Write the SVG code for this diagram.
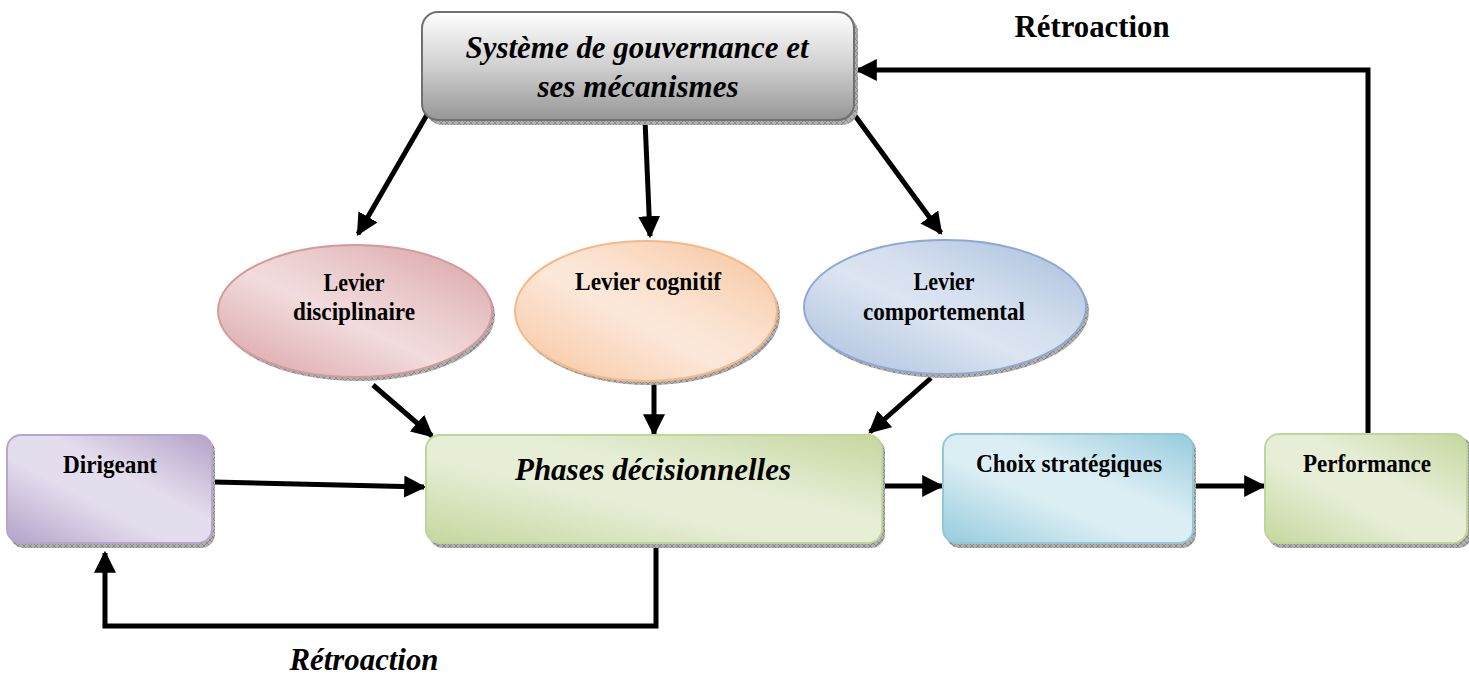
<svg xmlns="http://www.w3.org/2000/svg" width="1469" height="678" viewBox="0 0 1469 678">
  <style>
    .lbl { font-family: "Liberation Serif", "Times New Roman", serif; font-weight: bold; fill: #000; text-anchor: middle; }
    .big { font-size: 31px; font-style: italic; }
    .small { font-size: 25px; }
    .fb { font-size: 31px; }
    .edge { fill: none; stroke: #000; stroke-width: 5; }
    .shadow { fill: url(#hatch); }
  </style>
  <defs>
    <pattern id="hatch" width="6" height="6" patternUnits="userSpaceOnUse">
      <rect width="6" height="6" fill="#b0b0b0"/>
      <path d="M0 0 L6 6 M6 0 L0 6" stroke="#808080" stroke-width="0.8"/>
    </pattern>
    <marker id="arr" viewBox="0 0 10 10" refX="9" refY="5" markerWidth="4.4" markerHeight="4.4" orient="auto" markerUnits="strokeWidth">
      <path d="M0 0 L10 5 L0 10 z" fill="#000"/>
    </marker>
    <linearGradient id="gGray" x1="0" y1="0" x2="0" y2="1">
      <stop offset="0" stop-color="#ffffff"/>
      <stop offset="0.5" stop-color="#d0d0d0"/>
      <stop offset="1" stop-color="#969696"/>
    </linearGradient>
    <linearGradient id="gRed" x1="0" y1="1" x2="1" y2="0">
      <stop offset="0" stop-color="#d8a0a3"/>
      <stop offset="0.45" stop-color="#f2dcdd"/>
      <stop offset="0.6" stop-color="#eccfd0"/>
      <stop offset="1" stop-color="#d9a2a5"/>
    </linearGradient>
    <linearGradient id="gOrange" x1="0" y1="1" x2="1" y2="0">
      <stop offset="0" stop-color="#f7c49c"/>
      <stop offset="0.45" stop-color="#fce8da"/>
      <stop offset="0.6" stop-color="#fbe2cf"/>
      <stop offset="1" stop-color="#f6c39b"/>
    </linearGradient>
    <linearGradient id="gBlue" x1="0" y1="1" x2="1" y2="0">
      <stop offset="0" stop-color="#a9bedd"/>
      <stop offset="0.45" stop-color="#dce5f1"/>
      <stop offset="0.6" stop-color="#d4dfee"/>
      <stop offset="1" stop-color="#a7bcdc"/>
    </linearGradient>
    <linearGradient id="gPurple" x1="0" y1="1" x2="1" y2="0">
      <stop offset="0" stop-color="#b3a2c9"/>
      <stop offset="0.4" stop-color="#e4dded"/>
      <stop offset="0.6" stop-color="#e4dded"/>
      <stop offset="1" stop-color="#b3a2c9"/>
    </linearGradient>
    <linearGradient id="gGreen" x1="0" y1="1" x2="1" y2="0">
      <stop offset="0" stop-color="#c5d79e"/>
      <stop offset="0.4" stop-color="#e6eed6"/>
      <stop offset="0.6" stop-color="#e6eed6"/>
      <stop offset="1" stop-color="#c5d79e"/>
    </linearGradient>
    <linearGradient id="gCyan" x1="0" y1="1" x2="1" y2="0">
      <stop offset="0" stop-color="#96cbdc"/>
      <stop offset="0.4" stop-color="#dbeef4"/>
      <stop offset="0.6" stop-color="#dbeef4"/>
      <stop offset="1" stop-color="#96cbdc"/>
    </linearGradient>
  </defs>

  <rect width="1469" height="678" fill="#fff"/>

  <!-- connectors -->
  <g id="connectors">
    <path class="edge" d="M428 113 L358 234" marker-end="url(#arr)"/>
    <path class="edge" d="M645 120 L650 236" marker-end="url(#arr)"/>
    <path class="edge" d="M853 113 L941 233" marker-end="url(#arr)"/>
    <path class="edge" d="M373 385 L432 436" marker-end="url(#arr)"/>
    <path class="edge" d="M654 380 L654 434" marker-end="url(#arr)"/>
    <path class="edge" d="M931 378 L870 432" marker-end="url(#arr)"/>
    <path class="edge" d="M214 482 L424 487" marker-end="url(#arr)"/>
    <path class="edge" d="M884 486 L942 486" marker-end="url(#arr)"/>
    <path class="edge" d="M1195 486 L1264 486" marker-end="url(#arr)"/>
    <path class="edge" d="M1368 434 L1368 70 L857 70" marker-end="url(#arr)"/>
    <path class="edge" d="M656 546 L656 626 L105 626 L105 553" marker-end="url(#arr)"/>
  </g>

  <!-- governance system -->
  <g id="gouvernance">
    <rect class="shadow" x="426" y="16" width="432" height="109" rx="16"/>
    <rect x="422" y="12" width="432" height="108" rx="16" fill="url(#gGray)" stroke="#707070" stroke-width="2"/>
    <text class="lbl big" x="637" y="58" textLength="343" lengthAdjust="spacingAndGlyphs">Système de gouvernance et</text>
    <text class="lbl big" x="638" y="97" textLength="201" lengthAdjust="spacingAndGlyphs">ses mécanismes</text>
  </g>

  <g id="levier-disciplinaire">
    <ellipse class="shadow" cx="358" cy="315" rx="137" ry="66"/>
    <ellipse cx="355" cy="311" rx="137" ry="66" fill="url(#gRed)" stroke="#d49a9c" stroke-width="2"/>
    <text class="lbl small" x="354" y="291" textLength="61" lengthAdjust="spacingAndGlyphs">Levier</text>
    <text class="lbl small" x="354" y="320" textLength="122" lengthAdjust="spacingAndGlyphs">disciplinaire</text>
  </g>

  <g id="levier-cognitif">
    <ellipse class="shadow" cx="649" cy="315" rx="131" ry="70"/>
    <ellipse cx="646" cy="311" rx="131" ry="70" fill="url(#gOrange)" stroke="#f5b888" stroke-width="2"/>
    <text class="lbl small" x="648" y="290" textLength="146" lengthAdjust="spacingAndGlyphs">Levier cognitif</text>
  </g>

  <g id="levier-comportemental">
    <ellipse class="shadow" cx="948" cy="311" rx="141" ry="67"/>
    <ellipse cx="945" cy="307" rx="141" ry="67" fill="url(#gBlue)" stroke="#8fa9d2" stroke-width="2"/>
    <text class="lbl small" x="944" y="290" textLength="61" lengthAdjust="spacingAndGlyphs">Levier</text>
    <text class="lbl small" x="944" y="320" textLength="162" lengthAdjust="spacingAndGlyphs">comportemental</text>
  </g>

  <g id="dirigeant">
    <rect class="shadow" x="10" y="438" width="205" height="110" rx="14"/>
    <rect x="7" y="435" width="205" height="108" rx="14" fill="url(#gPurple)" stroke="#b7a6cc" stroke-width="2"/>
    <text class="lbl small" x="110" y="473" textLength="94" lengthAdjust="spacingAndGlyphs">Dirigeant</text>
  </g>

  <g id="phases">
    <rect class="shadow" x="429" y="438" width="456" height="110" rx="14"/>
    <rect x="426" y="435" width="456" height="108" rx="14" fill="url(#gGreen)" stroke="#c0d59a" stroke-width="2"/>
    <text class="lbl big" x="653" y="480" textLength="276" lengthAdjust="spacingAndGlyphs">Phases décisionnelles</text>
  </g>

  <g id="choix">
    <rect class="shadow" x="946" y="437" width="250" height="111" rx="14"/>
    <rect x="943" y="434" width="250" height="109" rx="14" fill="url(#gCyan)" stroke="#91c8da" stroke-width="2"/>
    <text class="lbl small" x="1069" y="472" textLength="186" lengthAdjust="spacingAndGlyphs">Choix stratégiques</text>
  </g>

  <g id="performance">
    <rect class="shadow" x="1268" y="437" width="204" height="111" rx="14"/>
    <rect x="1265" y="434" width="202" height="109" rx="14" fill="url(#gGreen)" stroke="#c0d59a" stroke-width="2"/>
    <text class="lbl small" x="1367" y="472" textLength="128" lengthAdjust="spacingAndGlyphs">Performance</text>
  </g>

  <g id="labels">
    <text class="lbl fb" x="1092" y="37" textLength="155" lengthAdjust="spacingAndGlyphs">Rétroaction</text>
    <text class="lbl fb" x="364" y="670" font-style="italic" textLength="149" lengthAdjust="spacingAndGlyphs">Rétroaction</text>
  </g>
</svg>
